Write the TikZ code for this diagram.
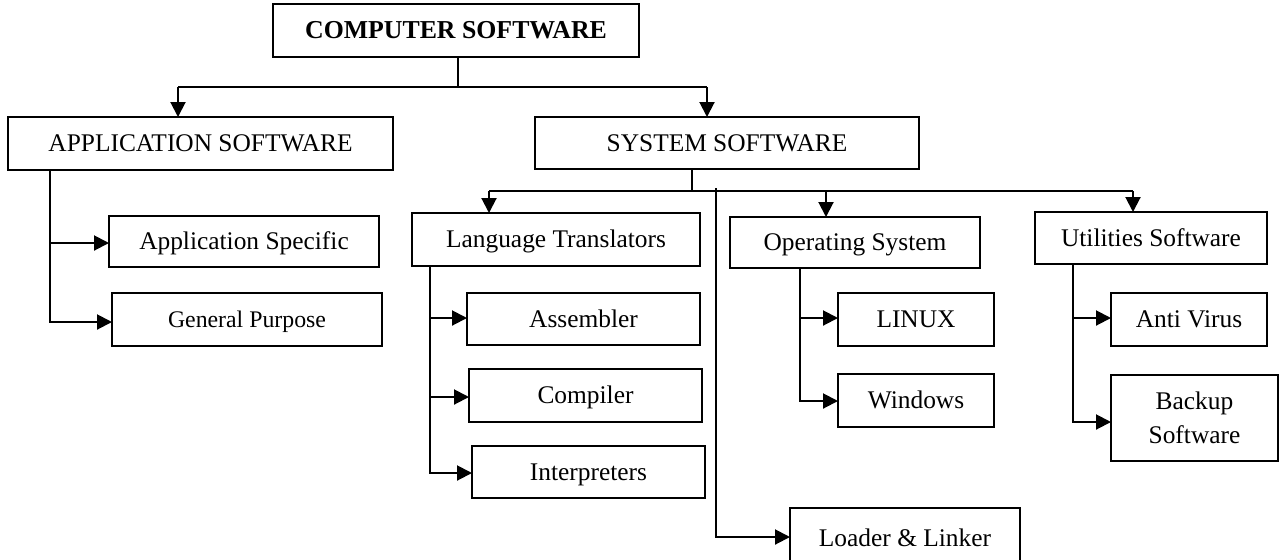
\documentclass[tikz,border=0pt]{standalone}
\usepackage{fontspec}
\setmainfont{Liberation Serif}
\usetikzlibrary{arrows.meta}
\begin{document}
\begin{tikzpicture}[x=0.5pt,y=-0.5pt,
  box/.style={draw=black, line width=1pt, fill=white, inner sep=0pt, align=center,
    text height=0.8em, text depth=0pt,
    font=\fontsize{12.7}{14.5}\selectfont},
  link/.style={line width=1pt},
  arr/.style={line width=1pt, -{Triangle[length=7.5pt,width=7.5pt]}, shorten >=-0.5pt}]
\useasboundingbox (0,0) rectangle (1280,559);
\clip (0,0) rectangle (1280,559);
\fill[white] (0,0) rectangle (1280,559);

% ---- boxes (centre, size in pt) ----
\node[box, minimum width=183pt, minimum height=26.5pt, font=\fontsize{12.9}{15}\selectfont\bfseries] (cs) at (456,30.5) {COMPUTER SOFTWARE};
\node[box, minimum width=192.5pt, minimum height=26.5pt] (app) at (200.5,143.5) {APPLICATION SOFTWARE};
\node[box, minimum width=192pt, minimum height=26pt] (sys) at (727,143) {SYSTEM SOFTWARE};

\node[box, minimum width=135pt, minimum height=25.5pt] (as) at (244,241.5) {Application Specific};
\node[box, minimum width=135pt, minimum height=26.5pt, font=\fontsize{11.9}{14}\selectfont] (gp) at (247,319.5) {General Purpose};

\node[box, minimum width=144pt, minimum height=26.5pt] (lt) at (556,239.5) {Language Translators};
\node[box, minimum width=116.5pt, minimum height=26pt] (asm) at (583.5,319) {Assembler};
\node[box, minimum width=116.5pt, minimum height=26.5pt] (cmp) at (585.5,395.5) {Compiler};
\node[box, minimum width=116.5pt, minimum height=26pt] (int) at (588.5,472) {Interpreters};

\node[box, minimum width=125pt, minimum height=25.5pt] (os) at (855,242.5) {Operating System};
\node[box, minimum width=78pt, minimum height=26.5pt] (lin) at (916,319.5) {LINUX};
\node[box, minimum width=78pt, minimum height=26.5pt] (win) at (916,400.5) {Windows};

\node[box, minimum width=115pt, minimum height=31pt] (ll) at (905,539) {};
\node[box, draw=none, fill=none] (lltxt) at (905,538) {Loader \& Linker};

\node[box, minimum width=116pt, minimum height=26pt] (ut) at (1151,238) {Utilities Software};
\node[box, minimum width=78pt, minimum height=26.5pt] (av) at (1189,319.5) {Anti Virus};
\node[box, minimum width=83.5pt, minimum height=43pt, text height=, text depth=,
  font=\fontsize{12.7}{17}\selectfont] (bk) at (1194.5,418) {Backup\\Software};

% ---- branch points ----
\coordinate (t0) at (458,87);
\coordinate (tL) at (178,87);
\coordinate (tR) at (707,87);

\coordinate (s0) at (692,191);
\coordinate (sL) at (489,191);
\coordinate (sM) at (826,191);
\coordinate (sR) at (1133,191);
\coordinate (k0) at (716,188);
\coordinate (k1) at (716,537);

\coordinate (a1) at (50,243);
\coordinate (a2) at (50,322);

\coordinate (l1) at (430,318);
\coordinate (l2) at (430,397);
\coordinate (l3) at (430,473);

\coordinate (o1) at (800,318);
\coordinate (o2) at (800,401);

\coordinate (u1) at (1073,318);
\coordinate (u2) at (1073,422);

% ---- top level ----
\draw[link] (cs.south -| t0) -- (t0);
\draw[link] (tL) -- (tR);
\draw[arr] (tL) -- (tL |- app.north);
\draw[arr] (tR) -- (tR |- sys.north);

% ---- system software ----
\draw[link] (sys.south -| s0) -- (s0);
\draw[link] (sL) -- (sR);
\draw[arr] (sL) -- (sL |- lt.north);
\draw[arr] (sM) -- (sM |- os.north);
\draw[arr] (sR) -- (sR |- ut.north);
\draw[arr] (k0) -- (k1) -- (k1 -| ll.west);

% ---- application software ----
\draw[arr] (app.south -| a2) -- (a2) -- (a2 -| gp.west);
\draw[arr] (a1) -- (a1 -| as.west);

% ---- language translators ----
\draw[arr] (lt.south -| l3) -- (l3) -- (l3 -| int.west);
\draw[arr] (l1) -- (l1 -| asm.west);
\draw[arr] (l2) -- (l2 -| cmp.west);

% ---- operating system ----
\draw[arr] (os.south -| o2) -- (o2) -- (o2 -| win.west);
\draw[arr] (o1) -- (o1 -| lin.west);

% ---- utilities ----
\draw[arr] (ut.south -| u2) -- (u2) -- (u2 -| bk.west);
\draw[arr] (u1) -- (u1 -| av.west);
\end{tikzpicture}
\end{document}
